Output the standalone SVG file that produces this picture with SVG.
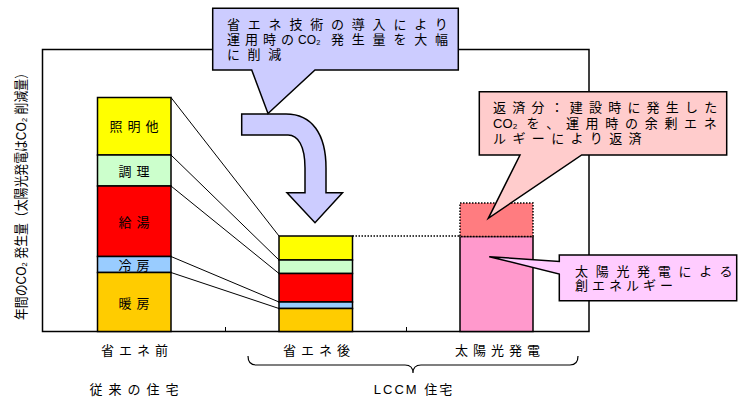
<svg xmlns="http://www.w3.org/2000/svg" width="739" height="403" viewBox="0 0 739 403">
<style>
text{font-family:"Liberation Sans","DejaVu Sans","Noto Sans CJK JP",sans-serif;fill:#000;}
.lbl{font-size:13px;letter-spacing:5px;text-anchor:middle;}
.co{font-size:13px;}
.seg{stroke:#000;stroke-width:1.5;}
.con{stroke:#000;stroke-width:1;fill:none;}
.box{stroke:#000;stroke-width:1.5;}
</style>
<rect width="739" height="403" fill="#fff"/>
<g id="frame">
<rect x="42.5" y="49.5" width="546.5" height="282" fill="none" stroke="#000" stroke-width="1.5"/>
<line x1="225.5" y1="331" x2="225.5" y2="327" stroke="#000" stroke-width="1"/>
<line x1="406.5" y1="331" x2="406.5" y2="327" stroke="#000" stroke-width="1"/>
</g>
<g id="ylabel">
<text transform="translate(25.5,193.5) rotate(-90)" text-anchor="middle" font-size="14" textLength="253" lengthAdjust="spacingAndGlyphs">年間のCO₂ 発生量（太陽光発電はCO₂ 削減量）</text>
</g>
<g id="connectors">
<line class="con" x1="171" y1="97.5" x2="279" y2="236"/>
<line class="con" x1="171" y1="155" x2="279" y2="260"/>
<line class="con" x1="171" y1="186" x2="279" y2="273.5"/>
<line class="con" x1="171" y1="256.5" x2="279" y2="302"/>
<line class="con" x1="171" y1="272.5" x2="279" y2="308.5"/>
<line x1="352.5" y1="236" x2="460" y2="236" stroke="#000" stroke-width="1.5" stroke-dasharray="1.5,1.5"/>
</g>
<g id="bar-before">
<rect class="seg" x="97.5" y="97.5" width="73.5" height="57.5" fill="#FFFF00"/>
<rect class="seg" x="97.5" y="155" width="73.5" height="31" fill="#CCFFCC"/>
<rect class="seg" x="97.5" y="186" width="73.5" height="70.5" fill="#FF0000"/>
<rect class="seg" x="97.5" y="256.5" width="73.5" height="16" fill="#99CCFF"/>
<rect class="seg" x="97.5" y="272.5" width="73.5" height="59" fill="#FFCC00"/>
<text class="lbl" x="136.5" y="131">照明他</text>
<text class="lbl" x="136.5" y="176">調理</text>
<text class="lbl" x="136.5" y="226.5">給湯</text>
<text class="lbl" x="136.5" y="270">冷房</text>
<text class="lbl" x="136.5" y="307.5">暖房</text>
</g>
<g id="bar-after">
<rect class="seg" x="279" y="236" width="73.5" height="24" fill="#FFFF00"/>
<rect class="seg" x="279" y="260" width="73.5" height="13.5" fill="#CCFFCC"/>
<rect class="seg" x="279" y="273.5" width="73.5" height="28.5" fill="#FF0000"/>
<rect class="seg" x="279" y="302" width="73.5" height="6.5" fill="#99CCFF"/>
<rect class="seg" x="279" y="308.5" width="73.5" height="23" fill="#FFCC00"/>
</g>
<g id="bar-solar">
<rect class="seg" x="460" y="236.5" width="73" height="95" fill="#FF99CC"/>
<rect x="460" y="203" width="73" height="33.5" fill="#FF7C80" stroke="#000" stroke-width="1.5" stroke-dasharray="1.5,1.5"/>
</g>
<g id="arrow">
<path class="box" fill="#CCCCFF" d="M241.7,114 L286,114 C312,114 326,134 326,168 L326,192.7 L342.5,192.7 L315,222.7 L287,192.7 L305,192.7 L305,168 C305,146 298,135 288,135 L241.7,135 Z"/>
</g>
<g id="callout-top">
<path class="box" fill="#CCCCFF" d="M212.7,8.3 H458.3 V70 H315 L268,113.5 L251.7,70 H212.7 Z"/>
<text class="co" x="227" y="28.5" style="letter-spacing:7.8px">省エネ技術の導入により</text>
<text class="co" y="44"><tspan x="227" style="letter-spacing:5px">運用時の</tspan><tspan x="298" font-size="12">CO₂</tspan><tspan x="331" style="letter-spacing:7.8px">発生量を大幅</tspan></text>
<text class="co" x="227" y="58.5" style="letter-spacing:7.6px">に削減</text>
</g>
<g id="callout-payback">
<path class="box" fill="#FFCCCC" d="M479.3,91.7 H726.7 V155 H581.7 L488.3,218.3 L520,155 H479.3 Z"/>
<text class="co" x="493" y="111.5" style="letter-spacing:6.2px">返済分：建設時に発生した</text>
<text class="co" y="127.5"><tspan x="493">CO₂</tspan><tspan x="526.5" style="letter-spacing:6.7px">を、運用時の余剰エネ</tspan></text>
<text class="co" x="493" y="142.5" style="letter-spacing:6.4px">ルギーにより返済</text>
</g>
<g id="callout-solar">
<path class="box" fill="#FFCCFF" d="M559.3,255 H736.7 V300.7 H559.3 V274 L489.3,256.7 L559.3,261.5 Z"/>
<text class="co" x="575" y="275.5" style="letter-spacing:7.7px">太陽光発電による</text>
<text class="co" x="575" y="289.5" style="letter-spacing:4px">創エネルギー</text>
</g>
<g id="axis-labels">
<text class="lbl" x="137" y="354.5">省エネ前</text>
<text class="lbl" x="319" y="354.5">省エネ後</text>
<text class="lbl" x="500" y="354.5">太陽光発電</text>
<path d="M248,356 Q248,365 256,365 H405 Q413,365 413,373 Q413,365 421,365 H570 Q578,365 578,356" fill="none" stroke="#000" stroke-width="1.2"/>
<text class="lbl" x="137" y="394" style="letter-spacing:6px">従来の住宅</text>
<text class="lbl" x="414" y="394" style="letter-spacing:2px">LCCM 住宅</text>
</g>
</svg>
